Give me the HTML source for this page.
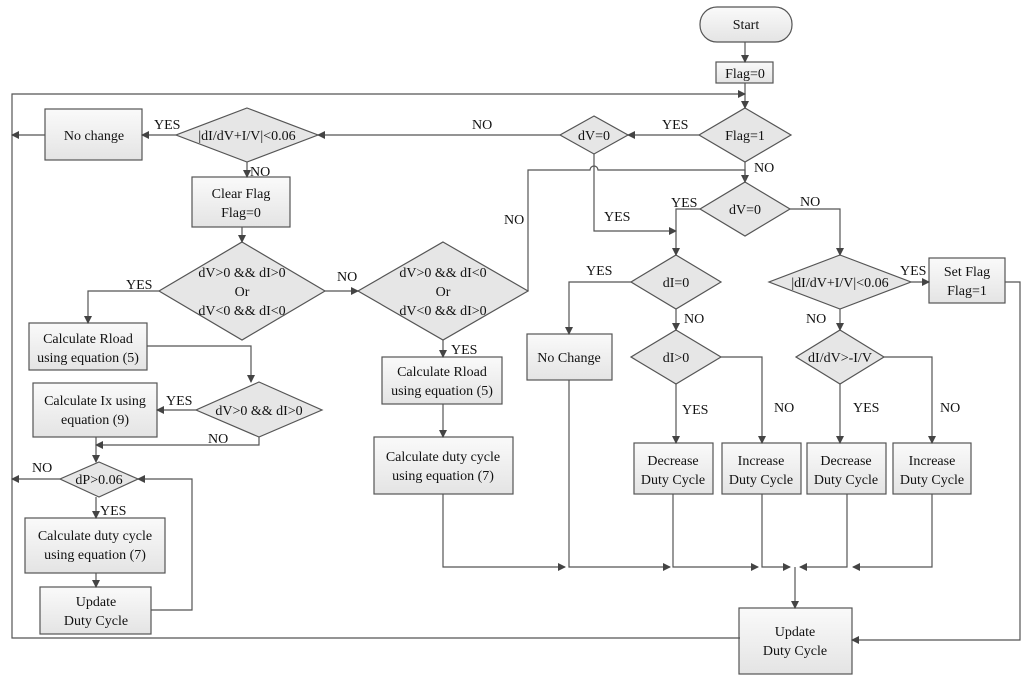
<!DOCTYPE html>
<html><head><meta charset="utf-8"><style>
html,body{margin:0;padding:0;background:#fff}
svg{display:block}
text{font-family:"Liberation Serif",serif;font-size:14px;fill:#111}
</style></head><body>
<svg width="1024" height="677" viewBox="0 0 1024 677" xmlns="http://www.w3.org/2000/svg">
<defs>
<linearGradient id="g" x1="0" y1="0" x2="0" y2="1"><stop offset="0" stop-color="#fafafa"/><stop offset="1" stop-color="#e4e4e4"/></linearGradient>
<marker id="a" markerWidth="8" markerHeight="8" refX="7" refY="4" orient="auto" markerUnits="userSpaceOnUse"><path d="M0,0 L8,4 L0,8 z" fill="#444"/></marker>
</defs>
<g fill="url(#g)" stroke="#555" stroke-width="1.2">
<rect x="700" y="7" width="92" height="35" rx="17"/>
<rect x="716" y="62" width="57" height="21"/>
<rect x="45" y="109" width="97" height="51"/>
<rect x="192" y="177" width="98" height="50"/>
<rect x="29" y="323" width="118" height="47"/>
<rect x="33" y="383" width="124" height="54"/>
<rect x="25" y="518" width="140" height="55"/>
<rect x="40" y="587" width="111" height="47"/>
<rect x="382" y="357" width="120" height="47"/>
<rect x="374" y="437" width="139" height="57"/>
<rect x="527" y="334" width="85" height="46"/>
<rect x="929" y="258" width="76" height="45"/>
<rect x="634" y="443" width="79" height="51"/>
<rect x="722" y="443" width="79" height="51"/>
<rect x="807" y="443" width="79" height="51"/>
<rect x="893" y="443" width="78" height="51"/>
<rect x="739" y="608" width="113" height="66"/>
</g>
<g fill="#e6e6e6" stroke="#555" stroke-width="1.2">
<polygon points="745,108 791,135 745,162 699,135"/>
<polygon points="594,116 628,135 594,154 560,135"/>
<polygon points="247,108 318,135 247,162 176,135"/>
<polygon points="242,242 325,291 242,340 159,291"/>
<polygon points="443,242 528,291 443,340 358,291"/>
<polygon points="259,382 322,410 259,437 196,410"/>
<polygon points="99,462 138,479 99,497 60,479"/>
<polygon points="745,182 790,209 745,236 700,209"/>
<polygon points="676,255 721,282 676,309 631,282"/>
<polygon points="676,330 721,357 676,384 631,357"/>
<polygon points="840,255 911,282 840,309 769,282"/>
<polygon points="840,330 884,357 840,384 796,357"/>
</g>
<g fill="none" stroke="#555" stroke-width="1.2">
<path d="M745,42 V62" marker-end="url(#a)"/>
<path d="M745,83 V108" marker-end="url(#a)"/>
<path d="M740,638 H12 V94 H745" marker-end="url(#a)"/>
<path d="M699,135 H628" marker-end="url(#a)"/>
<path d="M560,135 H318" marker-end="url(#a)"/>
<path d="M176,135 H142" marker-end="url(#a)"/>
<path d="M45,135 H12" marker-end="url(#a)"/>
<path d="M247,162 V177" marker-end="url(#a)"/>
<path d="M242,227 V242" marker-end="url(#a)"/>
<path d="M159,291 H88 V323" marker-end="url(#a)"/>
<path d="M325,291 H358" marker-end="url(#a)"/>
<path d="M147,346 H251 V382" marker-end="url(#a)"/>
<path d="M196,410 H157" marker-end="url(#a)"/>
<path d="M259,437 V445 H96" marker-end="url(#a)"/>
<path d="M96,437 V462" marker-end="url(#a)"/>
<path d="M60,479 H12" marker-end="url(#a)"/>
<path d="M96,497 V518" marker-end="url(#a)"/>
<path d="M96,573 V587" marker-end="url(#a)"/>
<path d="M151,610 H192 V479 H138" marker-end="url(#a)"/>
<path d="M528,291 V170 H590 a4,4 0 0 1 8,0 H745 V182" marker-end="url(#a)"/>
<path d="M443,340 V357" marker-end="url(#a)"/>
<path d="M443,404 V437" marker-end="url(#a)"/>
<path d="M594,154 V231 H676" marker-end="url(#a)"/>
<path d="M745,162 V182"/>
<path d="M700,209 H676 V255" marker-end="url(#a)"/>
<path d="M631,282 H569 V334" marker-end="url(#a)"/>
<path d="M676,309 V330" marker-end="url(#a)"/>
<path d="M676,384 V443" marker-end="url(#a)"/>
<path d="M721,357 H762 V443" marker-end="url(#a)"/>
<path d="M790,209 H840 V255" marker-end="url(#a)"/>
<path d="M911,282 H929" marker-end="url(#a)"/>
<path d="M1005,282 H1020 V640 H852" marker-end="url(#a)"/>
<path d="M840,309 V330" marker-end="url(#a)"/>
<path d="M840,384 V443" marker-end="url(#a)"/>
<path d="M884,357 H932 V443" marker-end="url(#a)"/>
<path d="M443,494 V567 H565" marker-end="url(#a)"/>
<path d="M569,380 V567 H670" marker-end="url(#a)"/>
<path d="M673,494 V567 H758" marker-end="url(#a)"/>
<path d="M762,494 V567 H790" marker-end="url(#a)"/>
<path d="M932,494 V567 H853" marker-end="url(#a)"/>
<path d="M847,494 V567 H800" marker-end="url(#a)"/>
<path d="M795,567 V608" marker-end="url(#a)"/>
</g>
<g text-anchor="middle">
<text x="746" y="29">Start</text>
<text x="745" y="78">Flag=0</text>
<text x="745" y="140">Flag=1</text>
<text x="594" y="140">dV=0</text>
<text x="247" y="140">|dI/dV+I/V|&lt;0.06</text>
<text x="94" y="140">No change</text>
<text x="241" y="198">Clear Flag</text>
<text x="241" y="217">Flag=0</text>
<text x="242" y="277">dV&gt;0 &amp;&amp; dI&gt;0</text>
<text x="242" y="296">Or</text>
<text x="242" y="315">dV&lt;0 &amp;&amp; dI&lt;0</text>
<text x="443" y="277">dV&gt;0 &amp;&amp; dI&lt;0</text>
<text x="443" y="296">Or</text>
<text x="443" y="315">dV&lt;0 &amp;&amp; dI&gt;0</text>
<text x="88" y="343">Calculate Rload</text>
<text x="88" y="362">using equation (5)</text>
<text x="95" y="405">Calculate Ix using</text>
<text x="95" y="424">equation (9)</text>
<text x="259" y="415">dV&gt;0 &amp;&amp; dI&gt;0</text>
<text x="99" y="484">dP&gt;0.06</text>
<text x="95" y="540">Calculate duty cycle</text>
<text x="95" y="559">using equation (7)</text>
<text x="96" y="606">Update</text>
<text x="96" y="625">Duty Cycle</text>
<text x="442" y="376">Calculate Rload</text>
<text x="442" y="395">using equation (5)</text>
<text x="443" y="461">Calculate duty cycle</text>
<text x="443" y="480">using equation (7)</text>
<text x="745" y="214">dV=0</text>
<text x="676" y="287">dI=0</text>
<text x="676" y="362">dI&gt;0</text>
<text x="840" y="287">|dI/dV+I/V|&lt;0.06</text>
<text x="840" y="362">dI/dV&gt;-I/V</text>
<text x="569" y="362">No Change</text>
<text x="967" y="276">Set Flag</text>
<text x="967" y="295">Flag=1</text>
<text x="673" y="465">Decrease</text>
<text x="673" y="484">Duty Cycle</text>
<text x="761" y="465">Increase</text>
<text x="761" y="484">Duty Cycle</text>
<text x="846" y="465">Decrease</text>
<text x="846" y="484">Duty Cycle</text>
<text x="932" y="465">Increase</text>
<text x="932" y="484">Duty Cycle</text>
<text x="795" y="636">Update</text>
<text x="795" y="655">Duty Cycle</text>
</g>
<g>
<text x="662" y="129">YES</text>
<text x="472" y="129">NO</text>
<text x="154" y="129">YES</text>
<text x="250" y="176">NO</text>
<text x="126" y="289">YES</text>
<text x="337" y="281">NO</text>
<text x="504" y="224">NO</text>
<text x="451" y="354">YES</text>
<text x="166" y="405">YES</text>
<text x="208" y="443">NO</text>
<text x="32" y="472">NO</text>
<text x="100" y="515">YES</text>
<text x="754" y="172">NO</text>
<text x="604" y="221">YES</text>
<text x="671" y="207">YES</text>
<text x="800" y="206">NO</text>
<text x="586" y="275">YES</text>
<text x="684" y="323">NO</text>
<text x="682" y="414">YES</text>
<text x="774" y="412">NO</text>
<text x="900" y="275">YES</text>
<text x="806" y="323">NO</text>
<text x="853" y="412">YES</text>
<text x="940" y="412">NO</text>
</g>
</svg>
</body></html>
